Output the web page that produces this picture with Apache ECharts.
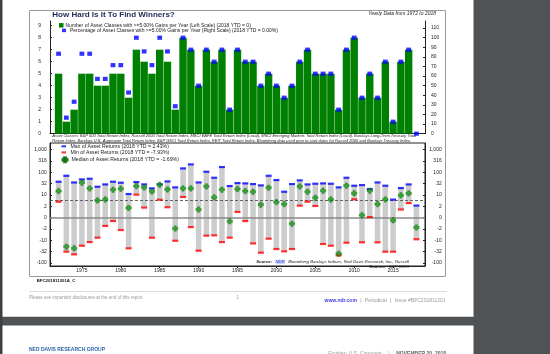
<!DOCTYPE html>
<html><head><meta charset="utf-8">
<script src="https://cdn.jsdelivr.net/npm/echarts@6/dist/echarts.min.js"></script>
<style>html,body{margin:0;padding:0;background:#505356}#c{width:550px;height:354px}</style>
</head><body><div id="c"></div>
<script>
// ---- data ----
const years = [1972,1973,1974,1975,1976,1977,1978,1979,1980,1981,1982,1983,1984,1985,1986,1987,1988,1989,1990,1991,1992,1993,1994,1995,1996,1997,1998,1999,2000,2001,2002,2003,2004,2005,2006,2007,2008,2009,2010,2011,2012,2013,2014,2015,2016,2017,2018];
const countAbove5 = [5,1,2,5,5,4,4,5,5,3,7,6,5,7,6,2,8,7,4,7,6,7,2,7,6,6,4,5,4,3,4,6,7,5,5,5,2,7,8,3,5,3,6,1,6,7,0];
const pctAbove5 = [83.3,16.7,33.3,83.3,83.3,57.1,57.1,71.4,71.4,42.9,100,85.7,71.4,100,85.7,28.6,100,87.5,50,87.5,75,87.5,25,87.5,75,75,50,62.5,50,37.5,50,75,87.5,62.5,62.5,62.5,25,87.5,100,37.5,62.5,37.5,75,12.5,75,87.5,0];
const maxReturn = [37.7,70,35,48,51.5,22.3,28.5,37.7,34,10.1,36.5,28.5,18.7,28.5,39,20.8,149,224,35,106,57,171,24,32.8,31.7,29.5,25.7,70,44.9,13,29.5,43.4,28.5,30.6,31.7,30.6,20.8,57,24.8,26.6,17.4,35,24.8,5.3,19.4,28.5,2.43];
const minReturn = [4.1,-30.6,-40.5,-16.2,-10.9,-6.6,-1.3,-0.4,-2.5,-21.5,9.4,1.8,-6.6,5.2,1.9,-9.4,7.2,-1.6,-27.6,-5.2,-5.0,-10.9,-6.6,0.8,-0.4,-12.6,-34,-7.4,-23.1,-29.5,-23.1,2.4,4.1,2.3,-13.5,-16.2,-44.9,-11.7,5.5,-11.2,0.07,-11.2,-30.6,-30.6,1.3,3.4,-7.93];
const medianReturn = [14,-18,-21.5,34,18.7,4.8,5.4,16.2,18,1.7,24,20.8,13.5,27.6,16.8,-2.0,18.7,18.7,1.3,23.1,6.9,16.2,-0.45,17.4,14,13,2.75,20.1,3.9,3.0,-0.84,23.1,13,6.6,14.5,5.4,-37.7,24.8,10.9,0.3,14.5,3.0,5.4,-0.3,8.7,10.9,-1.69];
const leftTicks = [0,1,2,3,4,5,6,7,8,9];
const rightTicks = [0,10,20,30,40,50,60,70,80,90,100,110];
const returnTickLabels = ['-100','-32','-10','-2','0','2','10','32','100','316','1,000'];
const returnTickPos = [-2,-1.5,-1,-0.5,0,0.5,1,1.5,2,2.5,3];
const yearTicks = [1975,1980,1985,1990,1995,2000,2005,2010,2015];
const threshold = 5;

// signed log scale used by the lower panel
function slog(v){ return Math.sign(v)*Math.log10(1+Math.abs(v)); }

const FF = 'Liberation Sans, Arial, sans-serif';
const nameCount = 'Number of Asset Classes with >=5.00% Gains per Year (Left Scale) (2018 YTD = 0)';
const namePct = 'Percentage of Asset Classes with >=5.00% Gains per Year (Right Scale) (2018 YTD = 0.00%)';
const nameMax = 'Max of Asset Returns (2018 YTD = 2.43%)';
const nameMin = 'Min of Asset Returns (2018 YTD = -7.93%)';
const nameMed = 'Median of Asset Returns (2018 YTD = -1.69%)';
const plusPath = 'path://M3,0H7V3H10V7H7V10H3V7H0V3H3Z';

const xMin = 1970.9, xMax = 2019.1;
function xAx(grid, labels){
  return {type:'value', gridIndex:grid, min:xMin, max:xMax,
    axisLine:{show:true, onZero:false, lineStyle:{color:'#222', width:1}},
    axisTick:{show:labels, length:2, customValues:yearTicks, lineStyle:{color:'#222'}},
    axisLabel:{show:labels, customValues:yearTicks, formatter:v => String(Math.round(v)), fontSize:5, margin:2.5, color:'#222', fontFamily:FF},
    splitLine:{show:false}};
}
const retFmt = v => { const i = returnTickPos.findIndex(p => Math.abs(p-v)<1e-6); return i>=0 ? returnTickLabels[i] : ''; };

const chart = echarts.init(document.getElementById('c'), null, {renderer:'canvas'});
chart.setOption({
  backgroundColor:'#505356',
  animation:false,
  textStyle:{fontFamily:FF},
  grid:[
    {left:50, width:375, top:21, height:112.7},
    {left:50, width:375, top:143, height:123, show:true, borderColor:'#222', borderWidth:1, backgroundColor:'transparent'}
  ],
  xAxis:[xAx(0,false), xAx(1,true)],
  yAxis:[
    {type:'value', gridIndex:0, position:'left', min:0, max:9.39,
     axisLine:{show:true, lineStyle:{color:'#222'}}, splitLine:{show:false},
     axisTick:{show:true, inside:true, length:2, customValues:leftTicks, lineStyle:{color:'#222'}},
     axisLabel:{customValues:leftTicks, fontSize:5, margin:9, color:'#222', fontFamily:FF}},
    {type:'value', gridIndex:0, position:'right', min:0, max:117.4,
     axisLine:{show:true, lineStyle:{color:'#222'}}, splitLine:{show:false},
     axisTick:{show:true, inside:true, length:2, customValues:rightTicks, lineStyle:{color:'#222'}},
     axisLabel:{customValues:rightTicks, fontSize:5, margin:6, color:'#222', fontFamily:FF}},
    {type:'value', gridIndex:1, position:'left', min:-2.131, max:3.297,
     axisLine:{show:true, lineStyle:{color:'#222'}}, splitLine:{show:false},
     axisTick:{show:true, inside:true, length:2, customValues:returnTickPos, lineStyle:{color:'#222'}},
     axisLabel:{customValues:returnTickPos, formatter:retFmt, fontSize:5, margin:3.3, color:'#222', fontFamily:FF}},
    {type:'value', gridIndex:1, position:'right', min:-2.131, max:3.297,
     axisLine:{show:true, lineStyle:{color:'#222'}}, splitLine:{show:false},
     axisTick:{show:true, inside:true, length:2, customValues:returnTickPos, lineStyle:{color:'#222'}},
     axisLabel:{customValues:returnTickPos, formatter:retFmt, fontSize:5, margin:16.7, align:'right', color:'#222', fontFamily:FF}}
  ],
  legend:[
    {data:[nameCount], left:59, top:22.8, padding:0, icon:'rect', itemWidth:4.5, itemHeight:4.5,
     textStyle:{fontSize:5, color:'#222', fontFamily:FF, padding:[0,0,0,-3]}},
    {data:[{name:namePct, icon:'rect'}], left:62, top:27.9, padding:0, itemWidth:4, itemHeight:3.5,
     textStyle:{fontSize:5, color:'#222', fontFamily:FF, padding:[0,0,0,-1]}},
    {data:[{name:nameMax, icon:'rect'}], left:61.5, top:143.8, padding:0, itemWidth:4.5, itemHeight:2,
     textStyle:{fontSize:5.2, color:'#222', fontFamily:FF, padding:[0,0,0,-0.5]}},
    {data:[{name:nameMin, icon:'rect'}], left:61.5, top:149.9, padding:0, itemWidth:4.5, itemHeight:2,
     textStyle:{fontSize:5.2, color:'#222', fontFamily:FF, padding:[0,0,0,-0.5]}},
    {data:[{name:nameMed, icon:plusPath}], left:61.5, top:156.2, padding:0, itemWidth:5, itemHeight:5,
     textStyle:{fontSize:5.2, color:'#222', fontFamily:FF, padding:[0,0,0,-1]}}
  ],
  series:[
    {name:nameCount, type:'bar', xAxisIndex:0, yAxisIndex:0, barWidth:7.4,
     itemStyle:{color:'#008000'}, data: years.map((y,i)=>[y,countAbove5[i]])},
    {name:namePct, type:'scatter', xAxisIndex:0, yAxisIndex:1, symbol:'rect', symbolSize:[4.8,4.2], z:5,
     itemStyle:{color:'#0000ff'}, data: years.map((y,i)=>[y,pctAbove5[i]])},
    {name:'Range', type:'custom', xAxisIndex:1, yAxisIndex:2, z:2,
     data: years.map((y,i)=>[y, slog(minReturn[i]), slog(maxReturn[i])]),
     encode:{x:0, y:[1,2]},
     renderItem:function(params, api){
       const x = api.value(0);
       const lo = api.coord([x, api.value(1)]);
       const hi = api.coord([x, api.value(2)]);
       const w = 5.5;
       return {type:'rect', shape:{x:lo[0]-w/2, y:hi[1], width:w, height:lo[1]-hi[1]}, style:{fill:'#cccccc'}};
     }},
    {name:nameMax, type:'scatter', xAxisIndex:1, yAxisIndex:2, symbol:'rect', symbolSize:[6,2.2], z:6,
     itemStyle:{color:'#0000ff'}, data: years.map((y,i)=>[y, slog(maxReturn[i])]),
     markLine:{silent:true, symbol:'none', label:{show:false}, z:4,
       data:[
         {yAxis:slog(threshold), lineStyle:{color:'#555', width:0.9, type:[3,2]}},
         {yAxis:0, lineStyle:{color:'#8a8a8a', width:1.6, type:'solid'}}
       ]}},
    {name:nameMin, type:'scatter', xAxisIndex:1, yAxisIndex:2, symbol:'rect', symbolSize:[6,2.2], z:6,
     itemStyle:{color:'#ff0000'}, data: years.map((y,i)=>[y, slog(minReturn[i])])},
    {name:nameMed, type:'scatter', xAxisIndex:1, yAxisIndex:2, symbol:plusPath, symbolSize:5.5, z:7,
     itemStyle:{color:'#109a10', borderColor:'#006400', borderWidth:0.4}, data: years.map((y,i)=>[y, slog(medianReturn[i])])}
  ],
  graphic:[
    {type:'rect', shape:{x:0, y:0, width:2.5, height:354}, style:{fill:'#3e3f41'}, z:-10},
    {type:'rect', shape:{x:2.5, y:0, width:471, height:316.8}, style:{fill:'#ffffff'}, z:-10},
    {type:'rect', shape:{x:2.5, y:325.6, width:471, height:40}, style:{fill:'#ffffff'}, z:-10},
    {type:'rect', shape:{x:29.5, y:10.5, width:416, height:266}, style:{fill:'none', stroke:'#9a9a9a', lineWidth:1}, z:-9},
    {type:'text', left:52.3, top:11, style:{text:'How Hard Is It To Find Winners?', font:'bold 8px '+FF, fill:'#1c2a57'}},
    {type:'text', right:550-436, top:11.5, style:{text:'Yearly Data from 1972 to 2018', font:'italic 5px '+FF, fill:'#222'}},
    {type:'text', left:52.3, top:134, style:{text:'Asset Classes: S&P 500 Total Return Index, Russell 2000 Total Return Index, MSCI EAFE Total Return Index (Local), MSCI Emerging Markets Total Return Index (Local), Barclays Long-Term Treasury Total', font:'italic 4px '+FF, fill:'#222'}},
    {type:'text', left:52.3, top:138.8, style:{text:'Return Index, Barclays U.S. Aggregate Total Return Index, S&P GSCI Total Return Index, REIT Total Return Index. Bloomberg data used prior to start dates for Russell 2000 and Barclays Treasury Index.', font:'italic 4px '+FF, fill:'#222'}},
    {type:'text', right:550-409, top:255.8, style:{text:'{b|Source:} {h|NDR} {i|Bloomberg Barclays Indices, Ned Davis Research, Inc., Russell}', rich:{
      b:{font:'bold italic 4.3px '+FF, fill:'#222'}, h:{font:'italic 4.3px '+FF, fill:'#3344cc', backgroundColor:'#c8ccff'}, i:{font:'italic 4.3px '+FF, fill:'#222'}}}},
    {type:'text', right:550-409, top:261, style:{text:'{b|Source:} {i|S&P GSCI}', rich:{
      b:{font:'bold italic 4.3px '+FF, fill:'#222'}, i:{font:'italic 4.3px '+FF, fill:'#222'}}}},
    {type:'text', left:36.7, top:278.6, style:{text:'BFC201811201A_C', font:'bold 4.3px '+FF, fill:'#111'}},
    {type:'rect', shape:{x:29, y:291.3, width:418, height:0.7}, style:{fill:'#cfcfcf'}},
    {type:'text', left:29, top:294.8, style:{text:'Please see important disclosures at the end of this report.', font:'4.5px '+FF, fill:'#9a9a9a'}},
    {type:'text', left:236.5, top:294.8, style:{text:'1', font:'4.5px '+FF, fill:'#9a9a9a'}},
    {type:'text', right:550-445.5, top:294.5, style:{text:'{a|www.ndr.com} {g||} {g|Periodical} {g||} {g|Issue #BFC201811201}', rich:{
      a:{font:'bold 5px '+FF, fill:'#3a3ae0'}, g:{font:'5px '+FF, fill:'#9a9a9a'}}}},
    {type:'text', left:29, top:347.5, style:{text:'NED DAVIS RESEARCH GROUP', font:'bold 5px '+FF, fill:'#2f64a8'}},
    {type:'text', right:550-446, top:347.5, style:{text:'{g|Equities: U.S. Comment}  {g||}  {b|NOVEMBER 20, 2018}', rich:{
      g:{font:'5px '+FF, fill:'#9a9a9a'}, b:{font:'bold 5px '+FF, fill:'#666'}}}}
  ]
});
</script></body></html>
